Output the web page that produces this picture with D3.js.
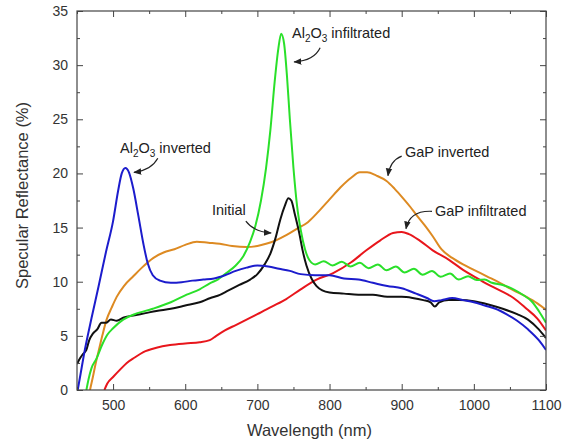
<!DOCTYPE html>
<html>
<head>
<meta charset="utf-8">
<script src="https://cdn.jsdelivr.net/npm/d3@7"></script>
<style>
  html, body { margin: 0; padding: 0; background: #fff; }
  svg { display: block; font-family: "Liberation Sans", Arial, sans-serif; }
</style>
</head>
<body>
<div id="chart"></div>
<script>
// wavelength (nm), reflectance (%)
const alInverted = [[451,0],[455,1.5],[460,3.4],[470,6.6],[480,9.6],[490,12.7],[500,15.6],[507,18.4],[512,20.0],[517,20.5],[522,20.1],[528,18.6],[535,16.1],[542,13.5],[548,11.7],[555,10.6],[565,10.1],[580,9.9],[595,9.95],[610,10.1],[625,10.2],[640,10.3],[655,10.6],[670,11.0],[685,11.3],[700,11.5],[715,11.4],[730,11.2],[745,11.0],[760,10.7],[780,10.6],[800,10.6],[820,10.3],[840,10.2],[860,9.9],[880,9.6],[900,9.4],[920,8.9],[935,8.5],[945,8.2],[955,8.3],[970,8.5],[985,8.3],[1000,8.1],[1015,7.8],[1030,7.5],[1045,7.0],[1060,6.4],[1075,5.6],[1090,4.6],[1100,3.7]];

const initial = [[450,2.4],[454,2.9],[458,3.3],[463,3.7],[467,4.6],[472,5.2],[478,5.6],[484,6.2],[490,6.2],[497,6.5],[505,6.4],[515,6.7],[530,6.9],[545,7.1],[560,7.3],[580,7.5],[600,7.8],[620,8.1],[635,8.5],[645,8.7],[660,9.2],[675,9.7],[690,10.2],[700,10.7],[710,11.6],[718,12.6],[725,14.0],[732,15.8],[738,17.0],[743,17.7],[747,17.5],[752,16.2],[758,14.5],[763,12.8],[768,11.5],[775,10.3],[782,9.6],[790,9.2],[800,9.0],[820,8.9],[840,8.8],[860,8.8],[880,8.6],[900,8.6],[915,8.5],[930,8.3],[940,8.1],[946,7.7],[952,8.1],[965,8.3],[980,8.3],[1000,8.2],[1020,7.9],[1040,7.5],[1060,7.0],[1075,6.5],[1090,5.6],[1100,4.8]];

const alInfiltrated = [[463,0],[466,1.0],[470,2.0],[477,2.9],[485,4.2],[492,5.1],[500,5.7],[514,6.5],[530,7.0],[555,7.5],[580,8.1],[602,8.8],[620,9.3],[634,9.85],[645,10.2],[657,10.8],[670,11.5],[680,12.3],[690,13.7],[697,15.1],[705,17.5],[712,20.5],[718,24.0],[724,28.5],[729,31.5],[733,32.9],[737,32.0],[741,29.0],[745,25.0],[750,20.5],[755,17.0],[760,14.8],[766,13.0],[772,12.0],[780,11.6],[792,11.9],[804,11.5],[817,11.85],[829,11.4],[842,11.75],[854,11.25],[867,11.6],[879,11.05],[892,11.4],[904,10.85],[917,11.2],[929,10.65],[942,11.0],[954,10.45],[967,10.75],[979,10.2],[992,10.5],[1004,10.15],[1015,10.2],[1025,9.9],[1040,9.7],[1055,9.3],[1070,8.7],[1080,8.2],[1090,7.3],[1100,6.2]];

const gapInverted = [[468,0],[472,1.2],[476,2.5],[480,3.6],[485,5.0],[491,6.5],[498,7.6],[505,8.6],[515,9.6],[528,10.5],[540,11.3],[556,12.2],[570,12.7],[585,13.0],[600,13.4],[616,13.7],[632,13.6],[648,13.5],[665,13.3],[685,13.2],[700,13.3],[712,13.5],[725,13.8],[740,14.3],[755,14.9],[770,15.5],[785,16.5],[800,17.6],[815,18.7],[830,19.6],[842,20.1],[852,20.1],[865,19.8],[879,19.3],[890,18.6],[902,17.7],[912,16.9],[920,16.2],[932,15.2],[943,14.2],[955,13.0],[970,12.2],[985,11.6],[1000,11.1],[1018,10.5],[1036,9.9],[1055,9.2],[1073,8.6],[1088,8.0],[1100,7.4]];

const gapInfiltrated = [[488,0],[492,0.6],[500,1.2],[510,1.9],[519,2.5],[530,3.0],[542,3.5],[560,3.9],[579,4.15],[600,4.3],[620,4.4],[634,4.6],[643,5.0],[655,5.5],[670,6.0],[685,6.5],[700,7.0],[720,7.7],[740,8.4],[760,9.3],[782,10.2],[805,10.8],[830,11.8],[851,12.9],[870,13.8],[888,14.5],[900,14.6],[910,14.4],[925,13.8],[943,12.9],[966,12.0],[985,11.1],[1000,10.5],[1018,9.8],[1036,9.2],[1055,8.5],[1073,7.5],[1088,6.6],[1100,5.5]];

const xTicks = [500, 600, 700, 800, 900, 1000, 1100];
const xMinor = [450, 550, 650, 750, 850, 950, 1050];
const yTicks = [0, 5, 10, 15, 20, 25, 30, 35];
const yMinor = [2.5, 7.5, 12.5, 17.5, 22.5, 27.5, 32.5];

const series = [
  { name: 'GaP infiltrated', values: gapInfiltrated, color: '#e8161c' },
  { name: 'GaP inverted', values: gapInverted, color: '#dd8a22' },
  { name: 'Initial', values: initial, color: '#111111' },
  { name: 'Al2O3 infiltrated', values: alInfiltrated, color: '#2ae02a' },
  { name: 'Al2O3 inverted', values: alInverted, color: '#1c1ccc' }
];

// label text parts: [text, isSubscript], text anchor and curved arrow (start, control, end) in data units
const notes = [
  { parts: [['Al', 0], ['2', 1], ['O', 0], ['3', 1], [' inverted', 0]], at: [509.6, 21.9], arrow: [[562, 21.4], [553, 20.3], [529, 20.1]] },
  { parts: [['Al', 0], ['2', 1], ['O', 0], ['3', 1], [' infiltrated', 0]], at: [748, 32.5], arrow: [[787, 31.6], [778.5, 30.4], [751, 30.3]] },
  { parts: [['Initial', 0]], at: [637, 16.2], arrow: [[684, 15.6], [695, 14.6], [719, 14.5]] },
  { parts: [['GaP inverted', 0]], at: [904.6, 21.5], arrow: [[900, 21.6], [884, 21.2], [881, 19.8]] },
  { parts: [['GaP infiltrated', 0]], at: [946, 16.1], arrow: [[942, 16.5], [911, 16.6], [906, 14.9]] }
];

const W = 569, H = 444;
const margin = { top: 11, right: 23, bottom: 54, left: 77 };
const width = W - margin.left - margin.right;
const height = H - margin.top - margin.bottom;

const svg = d3.select('#chart').append('svg')
  .attr('width', W)
  .attr('height', H);

const defs = svg.append('defs');
defs.append('marker')
  .attr('id', 'head')
  .attr('markerUnits', 'userSpaceOnUse')
  .attr('viewBox', '0 0 10 10')
  .attr('refX', 9).attr('refY', 5)
  .attr('markerWidth', 8).attr('markerHeight', 8)
  .attr('orient', 'auto')
  .append('path')
  .attr('d', 'M0,1 L10,5 L0,9 z')
  .attr('fill', '#222');

defs.append('clipPath').attr('id', 'plot-clip')
  .append('rect').attr('width', width).attr('height', height);

const g = svg.append('g')
  .attr('transform', `translate(${margin.left}, ${margin.top})`);

const xScale = d3.scaleLinear().domain([450, 1100]).range([0, width]);
const yScale = d3.scaleLinear().domain([0, 35]).range([height, 0]);

const line = d3.line()
  .x(d => xScale(d[0]))
  .y(d => yScale(d[1]))
  .curve(d3.curveMonotoneX);

g.append('g')
  .attr('clip-path', 'url(#plot-clip)')
  .selectAll('path')
  .data(series)
  .join('path')
  .attr('d', d => line(d.values))
  .attr('fill', 'none')
  .attr('stroke', d => d.color)
  .attr('stroke-width', 2)
  .attr('stroke-linejoin', 'round');

// axes: ticks point inward on all four sides
function styleAxis(sel) {
  sel.select('.domain').remove();
  sel.selectAll('line').attr('stroke', '#444');
  sel.selectAll('text')
    .attr('fill', '#333')
    .style('font-size', '14px')
    .style('font-family', '"Liberation Sans", Arial, sans-serif');
}

const fmt = d3.format('d');

g.append('g').attr('transform', `translate(0, ${height})`)
  .call(d3.axisBottom(xScale).tickValues(xTicks).tickSize(-6).tickPadding(10).tickFormat(fmt))
  .call(styleAxis);
g.append('g').attr('transform', `translate(0, ${height})`)
  .call(d3.axisBottom(xScale).tickValues(xMinor).tickSize(-3).tickFormat(''))
  .call(styleAxis);
g.append('g')
  .call(d3.axisTop(xScale).tickValues(xTicks).tickSize(-6).tickFormat(''))
  .call(styleAxis);
g.append('g')
  .call(d3.axisTop(xScale).tickValues(xMinor).tickSize(-3).tickFormat(''))
  .call(styleAxis);

g.append('g')
  .call(d3.axisLeft(yScale).tickValues(yTicks).tickSize(-6).tickPadding(9).tickFormat(fmt))
  .call(styleAxis);
g.append('g')
  .call(d3.axisLeft(yScale).tickValues(yMinor).tickSize(-3).tickFormat(''))
  .call(styleAxis);
g.append('g').attr('transform', `translate(${width}, 0)`)
  .call(d3.axisRight(yScale).tickValues(yTicks).tickSize(-6).tickFormat(''))
  .call(styleAxis);
g.append('g').attr('transform', `translate(${width}, 0)`)
  .call(d3.axisRight(yScale).tickValues(yMinor).tickSize(-3).tickFormat(''))
  .call(styleAxis);

g.append('rect')
  .attr('width', width)
  .attr('height', height)
  .attr('fill', 'none')
  .attr('stroke', '#444')
  .attr('stroke-width', 1.2);

// axis titles
svg.append('text')
  .attr('x', margin.left + width / 2 - 2)
  .attr('y', 436)
  .attr('text-anchor', 'middle')
  .attr('fill', '#333')
  .style('font-size', '16.5px')
  .text('Wavelength (nm)');

svg.append('text')
  .attr('transform', `translate(28, ${margin.top + height / 2 - 5}) rotate(-90)`)
  .attr('text-anchor', 'middle')
  .attr('fill', '#333')
  .style('font-size', '16.5px')
  .text('Specular Reflectance (%)');

// annotations
const noteG = g.append('g');
notes.forEach(n => {
  const t = noteG.append('text')
    .attr('x', xScale(n.at[0]))
    .attr('y', yScale(n.at[1]))
    .attr('fill', '#222')
    .style('font-size', '14.5px');
  let sub = false;
  n.parts.forEach(([s, isSub]) => {
    const dy = isSub && !sub ? 4 : (!isSub && sub ? -4 : 0);
    t.append('tspan')
      .attr('dy', dy)
      .style('font-size', isSub ? '10px' : '14.5px')
      .text(s);
    sub = !!isSub;
  });

  const [p0, p1, p2] = n.arrow.map(p => [xScale(p[0]), yScale(p[1])]);
  const path = d3.path();
  path.moveTo(p0[0], p0[1]);
  path.quadraticCurveTo(p1[0], p1[1], p2[0], p2[1]);
  noteG.append('path')
    .attr('d', path.toString())
    .attr('fill', 'none')
    .attr('stroke', '#222')
    .attr('stroke-width', 1.2)
    .attr('marker-end', 'url(#head)');
});
</script>
</body>
</html>
